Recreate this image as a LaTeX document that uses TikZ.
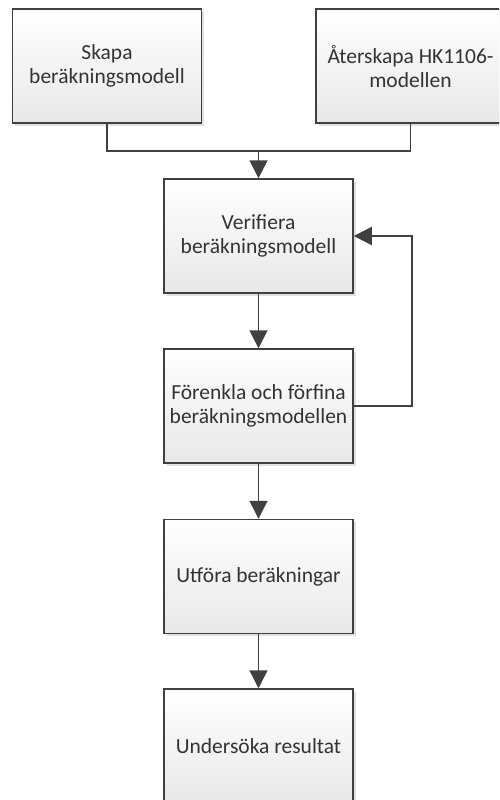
\documentclass[tikz,border=0pt]{standalone}
\usepackage{fontspec}
\setmainfont{Carlito}
\usetikzlibrary{shadows,arrows.meta}
\definecolor{lc}{HTML}{404040}
\definecolor{tc}{HTML}{333333}
\begin{document}
\begin{tikzpicture}[x=1pt,y=-1pt,
  box/.style={draw=lc, line width=1.5pt, top color=white, bottom color=black!9,
    minimum width=189pt, minimum height=114pt, align=center, text=tc,
    font=\fontsize{21.5}{24}\selectfont,
    drop shadow={shadow xshift=2.5pt, shadow yshift=-2.5pt, fill=black!12, opacity=1}},
  conn/.style={draw=lc, line width=1.5pt},
  arr/.style={conn, -{Triangle[length=18pt,width=18pt]}}]
\useasboundingbox (0,0) rectangle (499,800);
\clip (0,0) rectangle (499,800);
\node[box] (b1) at (107,66) {Skapa\\beräkningsmodell};
\node[box] (b2) at (410.5,66) {Återskapa HK1106-\\modellen};
\node[box] (b3) at (258.5,236) {Verifiera\\beräkningsmodell};
\node[box] (b4) at (258.5,406) {Förenkla och förfina\\beräkningsmodellen};
\node[box] (b5) at (258.5,576.5) {Utföra beräkningar};
\node[box] (b6) at (258.5,746) {Undersöka resultat};
\coordinate (j) at (258.5,151);
\draw[conn] (b1.south) |- (j) -| (b2.south);
\draw[arr] (j) -- (b3.north);
\draw[arr] (b3) -- (b4);
\draw[arr] (b4) -- (b5);
\draw[arr] (b5) -- (b6);
\coordinate (r) at (412,0);
\draw[arr] (b4.east) -| (r |- b3.east) -- (b3.east);
\end{tikzpicture}
\end{document}
